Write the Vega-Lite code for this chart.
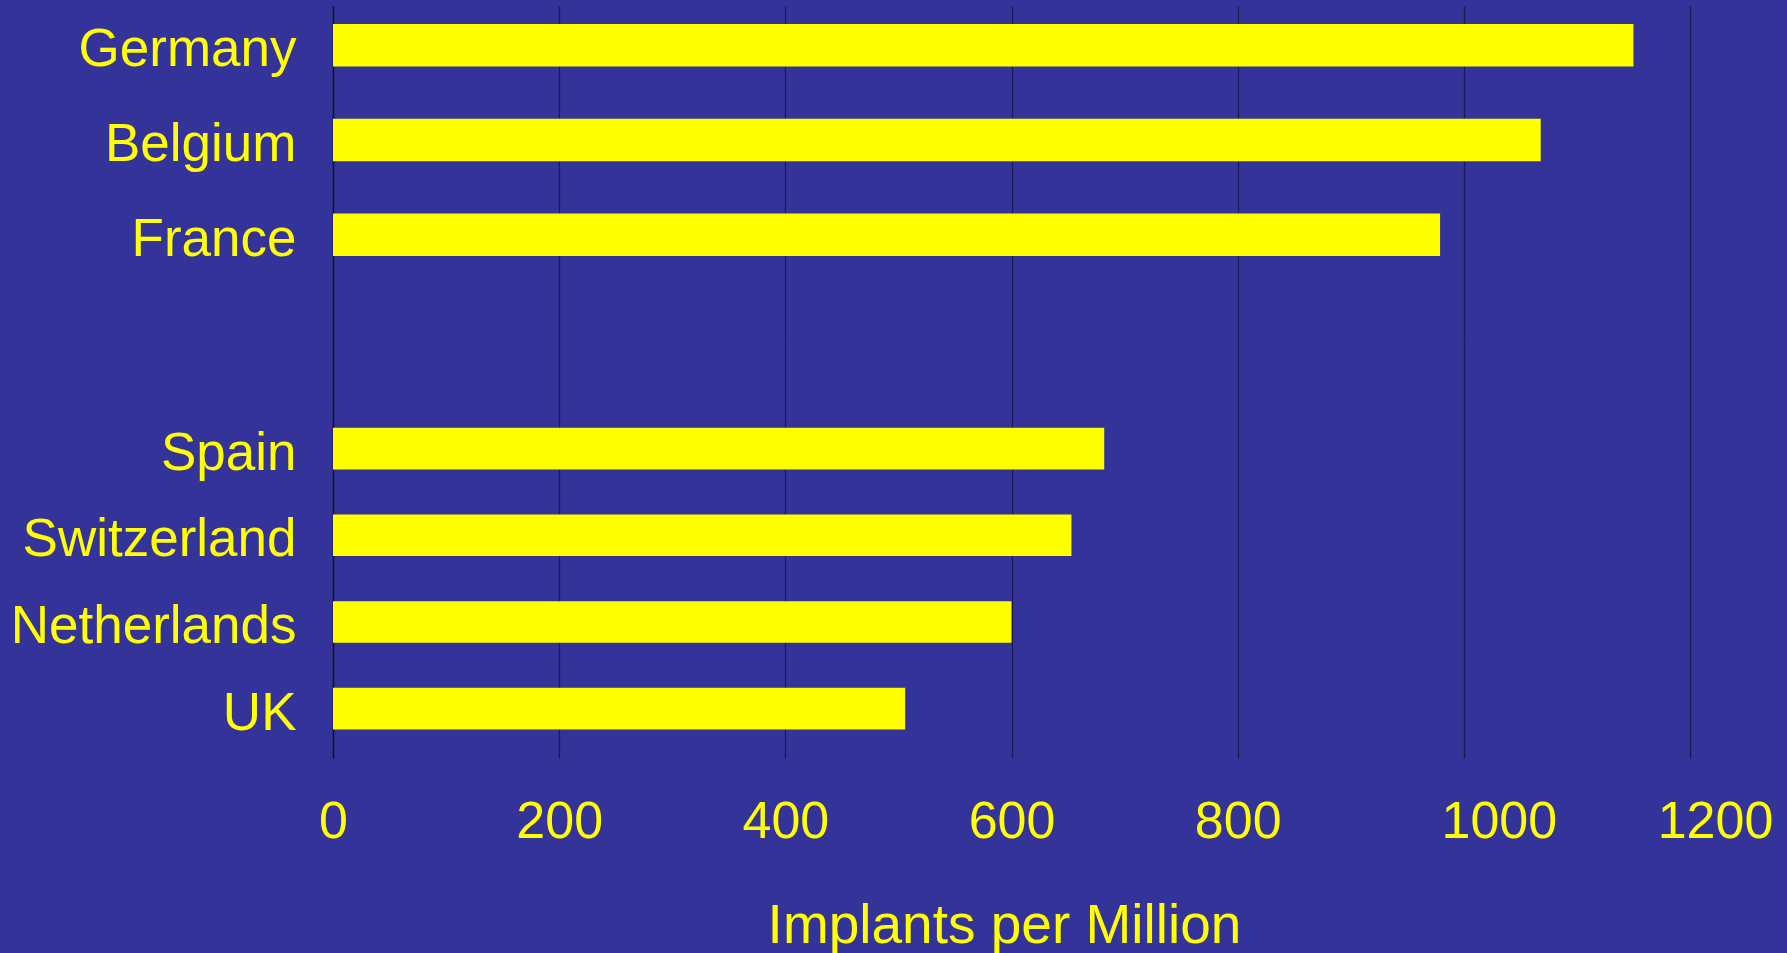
{
  "$schema": "https://vega.github.io/schema/vega-lite/v6.json",
  "autosize": {"type": "pad"},
  "padding": {"left": 10, "top": 6, "right": 30, "bottom": 20},
  "background": "#333399",
  "config": {
    "view": {"stroke": null},
    "font": "Liberation Sans",
    "concat": {"spacing": 0},
    "axisY": {
      "title": null,
      "ticks": false,
      "grid": false,
      "domain": true,
      "domainColor": "#111133",
      "domainWidth": 1.5,
      "labelColor": "#ffff00",
      "labelFont": "Liberation Sans",
      "labelFontSize": 53,
      "labelPadding": 37,
      "labelLimit": 0,
      "labelOffset": 5,
      "labelBaseline": "middle"
    }
  },
  "data": {
    "values": [
      {"country": "Germany", "implants": 1150},
      {"country": "Belgium", "implants": 1068},
      {"country": "France", "implants": 979},
      {"country": "Spain", "implants": 682},
      {"country": "Switzerland", "implants": 653},
      {"country": "Netherlands", "implants": 600},
      {"country": "UK", "implants": 506}
    ]
  },
  "vconcat": [
    {
      "width": 1357,
      "height": 336,
      "transform": [{"filter": {"field": "country", "oneOf": ["Germany", "Belgium", "France"]}}],
      "mark": {"type": "bar", "color": "#ffff00"},
      "encoding": {
        "y": {
          "field": "country",
          "type": "nominal",
          "sort": null,
          "scale": {
            "domain": ["Germany", "Belgium", "France"],
            "paddingInner": 0.55,
            "paddingOuter": 0.548,
            "align": 0.173
          }
        },
        "x": {
          "field": "implants",
          "type": "quantitative",
          "scale": {"domain": [0, 1200], "nice": false},
          "axis": {
            "values": [0, 200, 400, 600, 800, 1000, 1200],
            "title": null,
            "labels": false,
            "domain": false,
            "ticks": false,
            "grid": true,
            "gridColor": "#1a1a55",
            "gridWidth": 1.2
          }
        }
      }
    },
    {
      "width": 1357,
      "height": 416,
      "transform": [{"filter": {"field": "country", "oneOf": ["Spain", "Switzerland", "Netherlands", "UK"]}}],
      "mark": {"type": "bar", "color": "#ffff00"},
      "encoding": {
        "y": {
          "field": "country",
          "type": "nominal",
          "sort": null,
          "scale": {
            "domain": ["Spain", "Switzerland", "Netherlands", "UK"],
            "paddingInner": 0.52,
            "paddingOuter": 0.66,
            "align": 0.75
          }
        },
        "x": {
          "field": "implants",
          "type": "quantitative",
          "scale": {"domain": [0, 1200], "nice": false},
          "axis": {
            "values": [0, 200, 400, 600, 800, 1000, 1200],
            "format": "d",
            "title": "Implants per Million",
            "titleColor": "#ffff00",
            "titleFont": "Liberation Sans",
            "titleFontSize": 55,
            "titleFontWeight": "normal",
            "titlePadding": 52,
            "titleX": 671,
            "titleAlign": "center",
            "labelColor": "#ffff00",
            "labelFont": "Liberation Sans",
            "labelFontSize": 52,
            "labelPadding": 38,
            "labelFlush": false,
            "labelOverlap": false,
            "labelOffset": {"expr": "datum.value == 1000 ? 35 : datum.value == 1200 ? 25 : 0"},
            "domain": false,
            "ticks": false,
            "grid": true,
            "gridColor": "#1a1a55",
            "gridWidth": 1.2
          }
        }
      }
    }
  ]
}
